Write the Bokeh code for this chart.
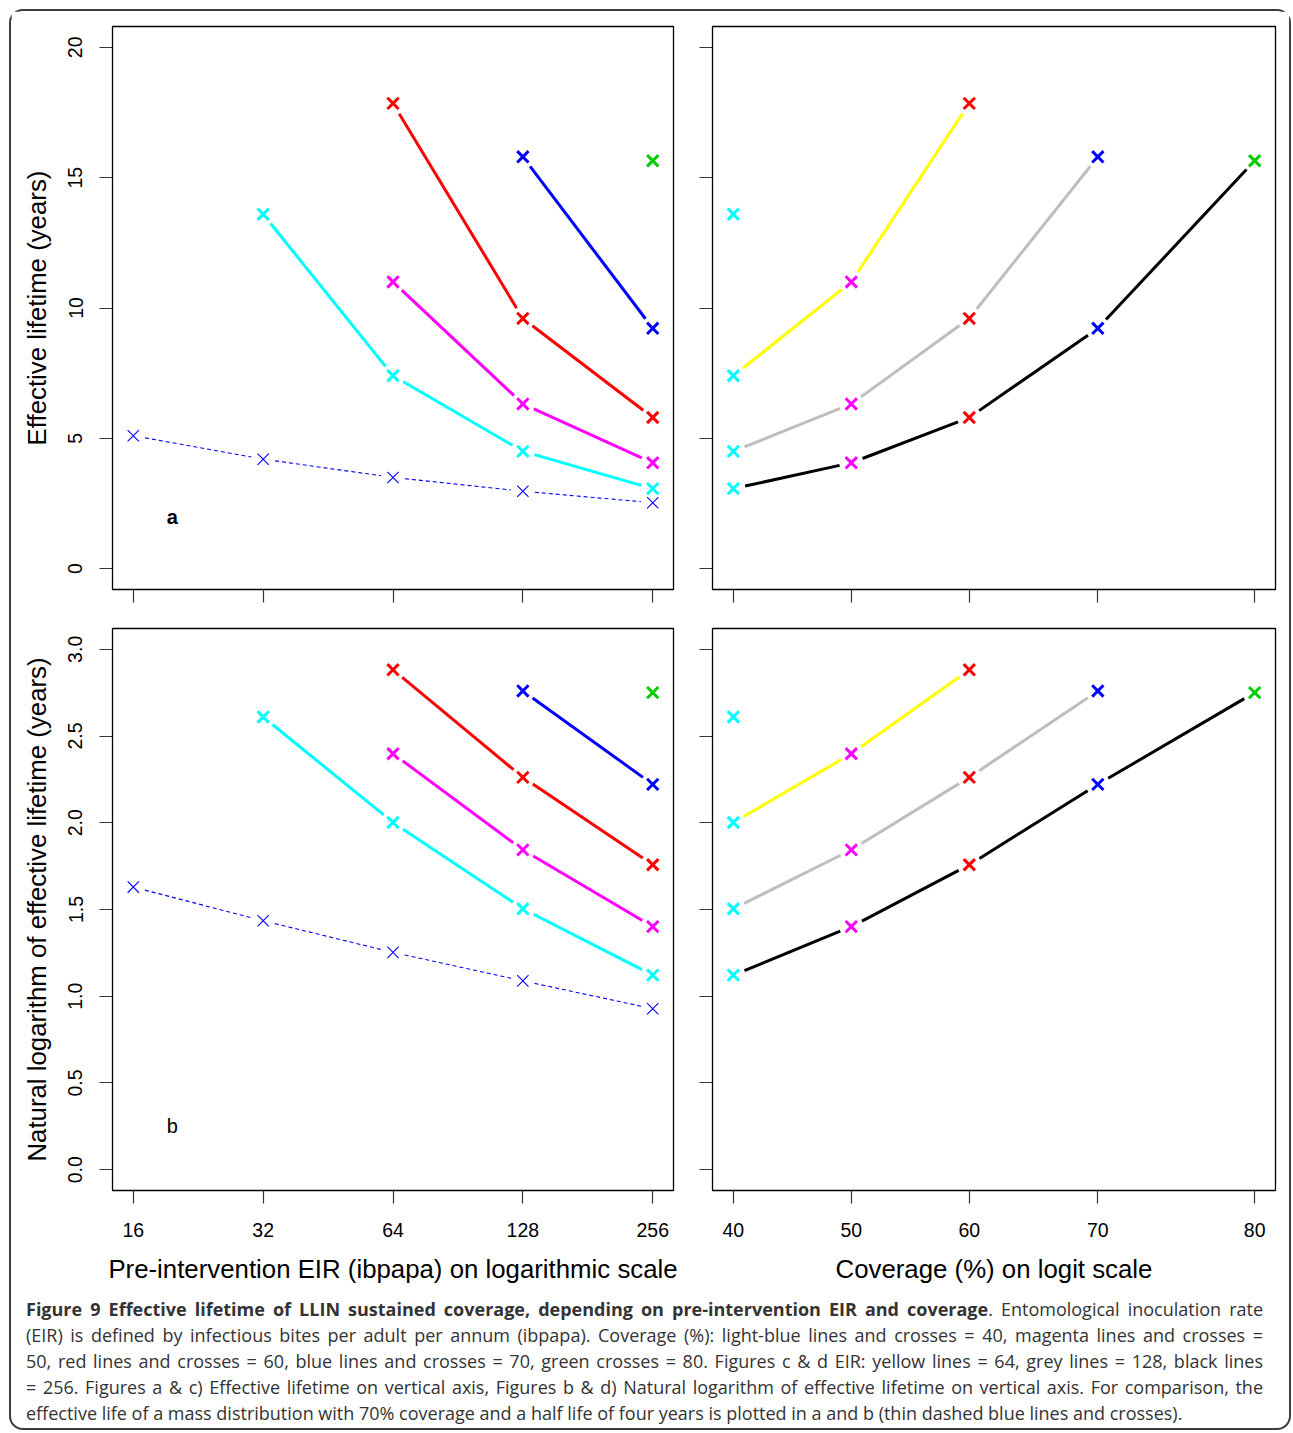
import numpy as np
from bokeh.plotting import figure
from bokeh.layouts import column, row
from bokeh.models import Range1d, FixedTicker, CustomJSTickFormatter, Div
from bokeh.core.properties import value
from bokeh.embed import file_html
from bokeh.resources import INLINE

# ---------------------------------------------------------------- data
# Tick values: pre-intervention EIR (ibpapa) and coverage (%)
eir_ticks = [16, 32, 64, 128, 256]
coverage_ticks = [40, 50, 60, 70, 80]
life_ticks = [0, 5, 10, 15, 20]
loglife_ticks = [0.0, 0.5, 1.0, 1.5, 2.0, 2.5, 3.0]

# Effective lifetime (years) of sustained LLIN coverage, one series per coverage level
eir_cov40 = [32, 64, 128, 256]
life_cov40 = [13.6, 7.4, 4.5, 3.07]
eir_cov50 = [64, 128, 256]
life_cov50 = [11.0, 6.32, 4.06]
eir_cov60 = [64, 128, 256]
life_cov60 = [17.85, 9.6, 5.8]
eir_cov70 = [128, 256]
life_cov70 = [15.8, 9.22]
eir_cov80 = [256]
life_cov80 = [15.65]

# Mass distribution with 70% coverage and a half life of four years
eir_mass = [16, 32, 64, 128, 256]
life_mass = [5.1, 4.2, 3.5, 2.97, 2.53]

# EIR levels that are joined by lines in the coverage panels
eir_lines = [64, 128, 256]

# ---------------------------------------------------------------- styling
COV_COLORS = {40: "#00ffff", 50: "#ff00ff", 60: "#ff0000", 70: "#0000ff", 80: "#00cd00"}
EIR_COLORS = {64: "#ffff00", 128: "#bebebe", 256: "#000000"}
FONT = "Liberation Sans"
CROSS = 16

series = [
    (40, eir_cov40, life_cov40),
    (50, eir_cov50, life_cov50),
    (60, eir_cov60, life_cov60),
    (70, eir_cov70, life_cov70),
    (80, eir_cov80, life_cov80),
]

# frame sizes (px) of the left and right columns, top and bottom rows
FW_L, FW_R = 561, 563
FH_T, FH_B = 563, 562


def pad(lo, hi, f=0.04):
    d = (hi - lo) * f
    return lo - d, hi + d


def logit(pct):
    p = np.asarray(pct, float) / 100.0
    return np.log(p / (1.0 - p))


U_EIR = pad(np.log2(eir_ticks[0]), np.log2(eir_ticks[-1]))
U_COV = pad(float(logit(coverage_ticks[0])), float(logit(coverage_ticks[-1])))
R_LIFE = pad(life_ticks[0], life_ticks[-1])
R_LOG = pad(loglife_ticks[0], loglife_ticks[-1])


def gapped(u, v, urange, vrange, fw, fh, gap=12.0):
    """Segments between consecutive points, leaving a gap around each point."""
    u = np.asarray(u, float)
    v = np.asarray(v, float)
    kx = fw / (urange[1] - urange[0])
    ky = fh / (vrange[1] - vrange[0])
    x0, y0, x1, y1 = [], [], [], []
    for i in range(len(u) - 1):
        du, dv = u[i + 1] - u[i], v[i + 1] - v[i]
        d = np.hypot(du * kx, dv * ky)
        if d <= 2 * gap:
            continue
        t = gap / d
        x0.append(u[i] + du * t)
        y0.append(v[i] + dv * t)
        x1.append(u[i + 1] - du * t)
        y1.append(v[i + 1] - dv * t)
    return np.array(x0), np.array(y0), np.array(x1), np.array(y1)


def base_figure(width, height, borders, x_range, y_range, x_axis_type="linear"):
    top, right, bottom, left = borders
    p = figure(width=width, height=height, x_range=x_range, y_range=y_range,
               x_axis_type=x_axis_type, output_backend="svg", toolbar_location=None,
               min_border_top=top, min_border_right=right,
               min_border_bottom=bottom, min_border_left=left)
    p.grid.visible = False
    p.outline_line_color = "black"
    p.outline_line_width = 1.3
    p.background_fill_color = "white"
    p.border_fill_color = "white"
    for ax in (p.xaxis[0], p.yaxis[0]):
        ax.axis_line_color = None
        ax.major_tick_out = 13
        ax.major_tick_in = 0
        ax.major_tick_line_color = "#333333"
        ax.major_tick_line_width = 1.2
        ax.minor_tick_line_color = None
        ax.major_label_text_font = FONT
        ax.major_label_text_font_size = "19.5px"
        ax.major_label_text_color = "black"
        ax.axis_label_text_font = FONT
        ax.axis_label_text_font_size = "25.8px"
        ax.axis_label_text_font_style = "normal"
        ax.axis_label_text_color = "black"
    return p


def hide_labels(ax):
    ax.formatter = CustomJSTickFormatter(code="return '';")
    ax.major_label_text_font_size = "0px"
    ax.major_label_standoff = 0


def style_left(ax, title):
    ax.major_label_orientation = "parallel"
    ax.major_label_standoff = 17
    ax.axis_label = title
    ax.axis_label_standoff = 15


def style_bottom(ax, title):
    ax.major_label_standoff = 19
    ax.axis_label = title
    ax.axis_label_standoff = 15


eir_fmt = "return String(Math.round(tick));"
cov_fmt = "return String(Math.round(100 / (1 + Math.exp(-tick))));"


def eir_panel(width, height, borders, yr, yticks, transform, letter, letter_y,
              letter_bold, fh, ylabel, show_x):
    p = base_figure(width, height, borders,
                    Range1d(2 ** U_EIR[0], 2 ** U_EIR[1]), Range1d(*yr), x_axis_type="log")
    p.xaxis.ticker = FixedTicker(ticks=eir_ticks)
    p.yaxis.ticker = FixedTicker(ticks=yticks)
    if show_x:
        p.xaxis.formatter = CustomJSTickFormatter(code=eir_fmt)
        style_bottom(p.xaxis[0], "Pre-intervention EIR (ibpapa) on logarithmic scale")
    else:
        hide_labels(p.xaxis[0])
    if transform is not None:
        p.yaxis.formatter = CustomJSTickFormatter(code="return tick.toFixed(1);")
    style_left(p.yaxis[0], ylabel)

    tf = (lambda a: np.log(np.asarray(a, float))) if transform else (lambda a: np.asarray(a, float))

    # thin dashed reference: mass distribution
    u = np.log2(eir_mass)
    v = tf(life_mass)
    x0, y0, x1, y1 = gapped(u, v, U_EIR, yr, FW_L, fh)
    p.segment(2 ** x0, y0, 2 ** x1, y1, line_color="blue", line_width=1.1, line_dash="4 3")
    p.scatter(eir_mass, v, marker="x", size=CROSS, line_color="blue", line_width=1.1)

    for cov, e, life in series:
        u = np.log2(e)
        v = tf(life)
        x0, y0, x1, y1 = gapped(u, v, U_EIR, yr, FW_L, fh)
        if len(x0):
            p.segment(2 ** x0, y0, 2 ** x1, y1, line_color=COV_COLORS[cov], line_width=3)
    for cov, e, life in series:
        p.scatter(e, tf(life), marker="x", size=CROSS, line_color=COV_COLORS[cov], line_width=3)

    p.text(x=[19.7], y=[letter_y], text=[letter], text_font=value(FONT),
           text_font_size="20px", text_font_style="bold" if letter_bold else "normal",
           text_align="center", text_baseline="middle", text_color="black")
    return p


def coverage_panel(width, height, borders, yr, yticks, transform, fh, show_x):
    p = base_figure(width, height, borders, Range1d(*U_COV), Range1d(*yr))
    p.xaxis.ticker = FixedTicker(ticks=[float(t) for t in logit(coverage_ticks)])
    p.yaxis.ticker = FixedTicker(ticks=yticks)
    hide_labels(p.yaxis[0])
    if show_x:
        p.xaxis.formatter = CustomJSTickFormatter(code=cov_fmt)
        style_bottom(p.xaxis[0], "Coverage (%) on logit scale")
    else:
        hide_labels(p.xaxis[0])

    tf = (lambda a: np.log(np.asarray(a, float))) if transform else (lambda a: np.asarray(a, float))

    # lines join points of equal EIR across coverage levels
    for level in eir_lines:
        cov_pts, life_pts = [], []
        for cov, e, life in series:
            if level in e:
                cov_pts.append(cov)
                life_pts.append(life[e.index(level)])
        u = logit(cov_pts)
        v = tf(life_pts)
        x0, y0, x1, y1 = gapped(u, v, U_COV, yr, FW_R, fh)
        p.segment(x0, y0, x1, y1, line_color=EIR_COLORS[level], line_width=3)
    for cov, e, life in series:
        p.scatter(logit([cov] * len(e)), tf(life), marker="x", size=CROSS,
                  line_color=COV_COLORS[cov], line_width=3)
    return p


fa = eir_panel(681, 597, (15, 19, 19, 101), R_LIFE, life_ticks, None, "a", 2.0, True,
               FH_T, "Effective lifetime (years)", False)
fc = coverage_panel(597, 597, (15, 14, 19, 20), R_LIFE, life_ticks, None, FH_T, False)
fb = eir_panel(681, 688, (20, 19, 106, 101), R_LOG, loglife_ticks, "log", "b", 0.25, False,
               FH_B, "Natural logarithm of effective lifetime (years)", True)
fd = coverage_panel(597, 688, (20, 14, 106, 20), R_LOG, loglife_ticks, "log", FH_B, True)

caption_lines = [
    "<b>Figure 9 Effective lifetime of LLIN sustained coverage, depending on pre-intervention EIR and coverage</b>. Entomological inoculation rate",
    "(EIR) is defined by infectious bites per adult per annum (ibpapa). Coverage (%): light-blue lines and crosses = 40, magenta lines and crosses =",
    "50, red lines and crosses = 60, blue lines and crosses = 70, green crosses = 80. Figures c &amp; d EIR: yellow lines = 64, grey lines = 128, black lines",
    "= 256. Figures a &amp; c) Effective lifetime on vertical axis, Figures b &amp; d) Natural logarithm of effective lifetime on vertical axis. For comparison, the",
    "effective life of a mass distribution with 70% coverage and a half life of four years is plotted in a and b (thin dashed blue lines and crosses).",
]
rows_html = []
for i, line in enumerate(caption_lines):
    last = "justify" if i < len(caption_lines) - 1 else "left"
    rows_html.append(
        f'<div style="white-space:nowrap;text-align:justify;text-align-last:{last};">{line}</div>')
caption = Div(
    text=('<div style="font-family:\'Open Sans\';font-size:18px;line-height:26px;color:#333333;'
          'padding-left:15px;width:1252px;">' + "".join(rows_html) + "</div>"),
    width=1278, height=132, margin=(0, 0, 0, 0),
    styles={"color": "#333333"},
)

layout = column(
    row(fa, fc), row(fb, fd), caption,
    styles={"border": "2px solid #3d3d3d", "border-radius": "14px",
            "margin-left": "9px", "margin-top": "9px", "background": "white"},
)

open("out.html", "w").write(file_html(layout, INLINE))
